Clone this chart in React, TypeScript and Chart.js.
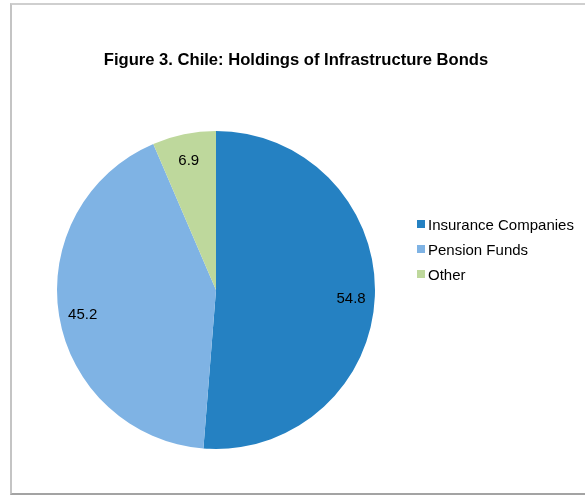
import React, { useEffect, useRef } from "react";
import { Chart, registerables } from "chart.js";

Chart.register(...registerables);

const titleText = "Figure 3. Chile: Holdings of Infrastructure Bonds";
const categories = ["Insurance Companies", "Pension Funds", "Other"];
const values = [54.8, 45.2, 6.9];
const colors = ["#2581c2", "#7fb3e4", "#bed89c"];

const labelPlugin = {
  id: "sliceLabels",
  afterDatasetsDraw(chart: any) {
    const ctx = chart.ctx;
    const meta = chart.getDatasetMeta(0);
    ctx.save();
    ctx.font = "15px 'Liberation Sans', Arial, sans-serif";
    ctx.fillStyle = "#000";
    ctx.textAlign = "center";
    ctx.textBaseline = "middle";
    meta.data.forEach((arc: any, i: number) => {
      const mid = (arc.startAngle + arc.endAngle) / 2;
      const r = arc.outerRadius * 0.85;
      const x = arc.x + Math.cos(mid) * r;
      const y = arc.y + Math.sin(mid) * r + 3;
      ctx.fillText(values[i].toFixed(1), x, y);
    });
    ctx.restore();
  },
};

export default function App() {
  const canvasRef = useRef<HTMLCanvasElement>(null);
  useEffect(() => {
    const chart = new Chart(canvasRef.current!, {
      type: "pie",
      data: {
        labels: categories,
        datasets: [
          {
            data: values,
            backgroundColor: colors,
            borderWidth: 0,
          },
        ],
      },
      options: {
        animation: false,
        responsive: false,
        maintainAspectRatio: false,
        layout: { padding: { left: 57, top: 131, right: 210, bottom: 46 } },
        plugins: {
          legend: { display: false },
          title: { display: false },
          tooltip: { enabled: false },
        },
      },
      plugins: [labelPlugin],
    });
    return () => chart.destroy();
  }, []);

  const font = "'Liberation Sans', Arial, sans-serif";
  return (
    <div style={{ position: "fixed", left: 0, top: 0, width: 585, height: 495, background: "#fff", overflow: "hidden", fontFamily: font }}>
      <div
        style={{
          position: "absolute",
          left: 10,
          top: 3,
          width: 600,
          height: 488,
          borderTop: "2px solid #cfcfcf",
          borderLeft: "2px solid #c4c4c4",
          borderBottom: "2px solid #a3a3a3",
        }}
      />
      <canvas ref={canvasRef} width={585} height={495} style={{ position: "absolute", left: 0, top: 0 }} />
      <div
        style={{
          position: "absolute",
          left: 0,
          width: 592,
          top: 50,
          lineHeight: "20px",
          textAlign: "center",
          fontWeight: "bold",
          fontSize: 16.6,
          color: "#000",
        }}
      >
        {titleText}
      </div>
      {categories.map((c, i) => (
        <div
          key={c}
          style={{ position: "absolute", left: 417, top: 215 + i * 25, height: 18, display: "flex", alignItems: "center", fontSize: 15, color: "#000", whiteSpace: "nowrap" }}
        >
          <span style={{ display: "inline-block", width: 8, height: 8, background: colors[i], marginRight: 3 }} />
          {c}
        </div>
      ))}
    </div>
  );
}
